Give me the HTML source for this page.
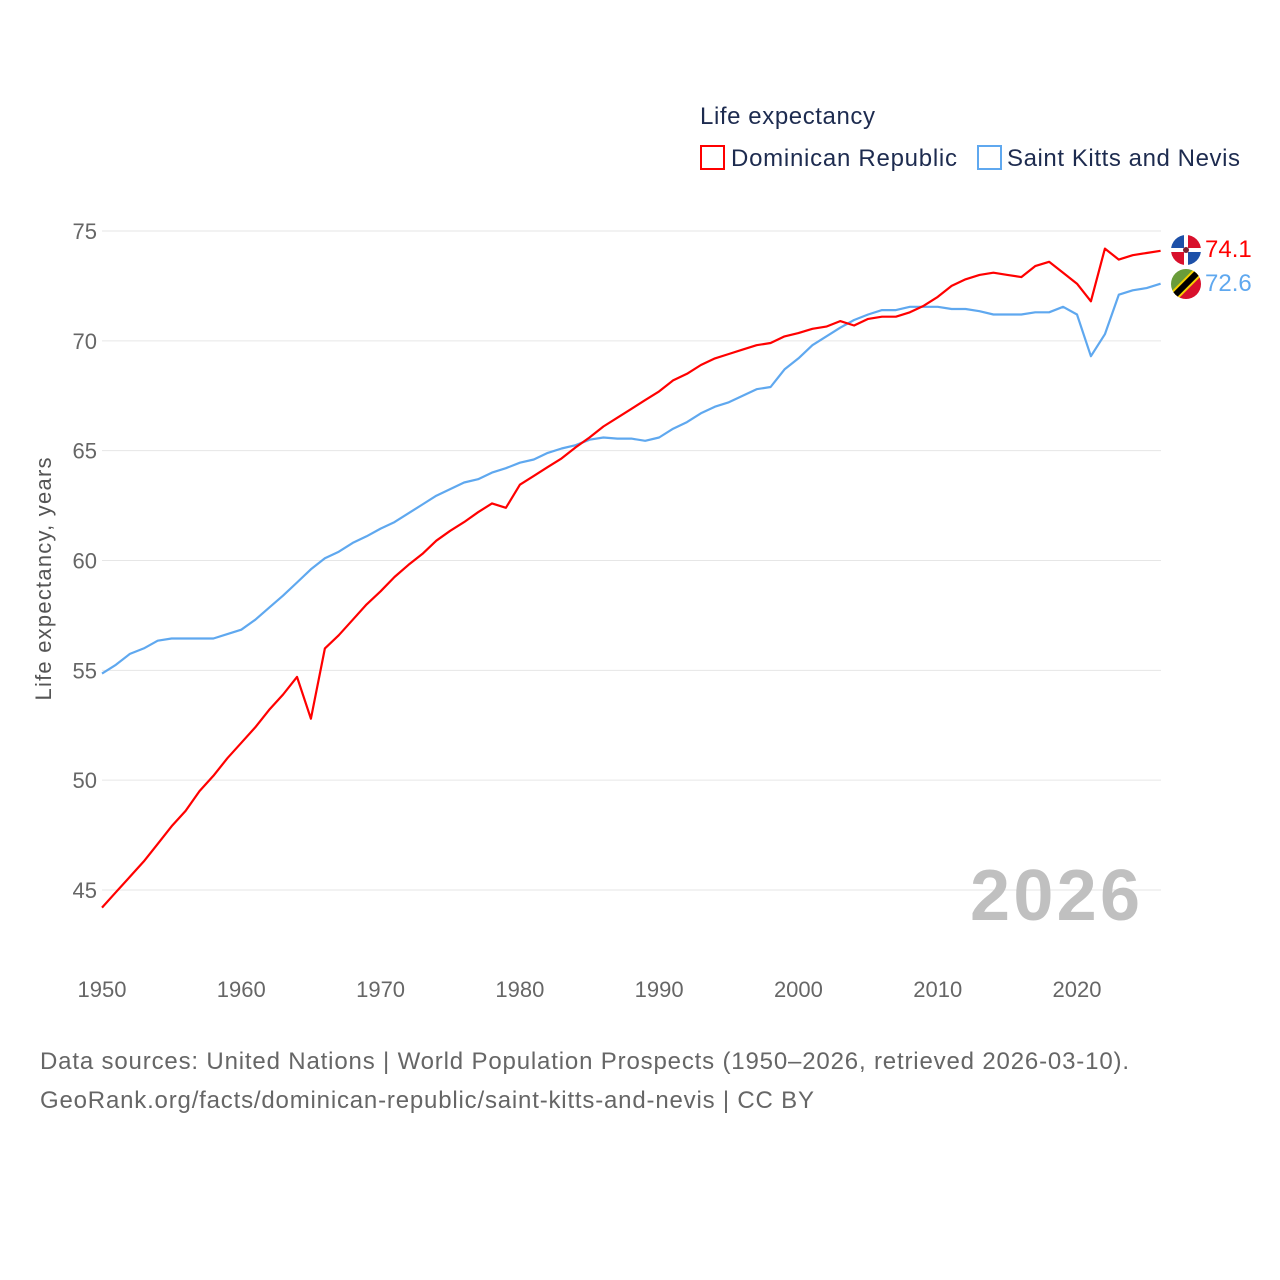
<!DOCTYPE html>
<html><head><meta charset="utf-8"><style>
body{margin:0;background:#fff;font-family:"Liberation Sans",sans-serif}
svg{display:block}
</style></head><body>
<svg id="chart" width="1280" height="1280" xmlns="http://www.w3.org/2000/svg">
<text x="700" y="124" font-size="24" fill="#1d2b4f" textLength="175">Life expectancy</text>
<g><rect x="701" y="146" width="23" height="23" fill="none" stroke="#ff0000" stroke-width="2"/><text x="731" y="166" font-size="24" fill="#1d2b4f" textLength="226">Dominican Republic</text></g>
<g><rect x="978" y="146" width="23" height="23" fill="none" stroke="#5fa8ef" stroke-width="2"/><text x="1007" y="166" font-size="24" fill="#1d2b4f" textLength="233">Saint Kitts and Nevis</text></g>
<g id="grid"></g><g id="xt"></g><g id="yt"></g>
<text transform="translate(51,579) rotate(-90)" text-anchor="middle" font-size="22" fill="#555" textLength="243">Life expectancy, years</text>
<text x="1140" y="920" text-anchor="end" font-size="72" font-weight="bold" fill="#c0c0c0" textLength="170">2026</text>
<g id="lines"></g>
<g>
<clipPath id="c1"><circle cx="1186" cy="250" r="15"/></clipPath>
<g clip-path="url(#c1)"><rect x="1171" y="235" width="30" height="30" fill="#fff"/><rect x="1171" y="235" width="13" height="13" fill="#1d50a8"/><rect x="1188" y="235" width="13" height="13" fill="#d8102c"/><rect x="1171" y="252" width="13" height="13" fill="#d8102c"/><rect x="1188" y="252" width="13" height="13" fill="#1d50a8"/><circle cx="1186" cy="250" r="3" fill="#7a2030"/></g></g>
<g>
<clipPath id="c2"><circle cx="1186" cy="284" r="15"/></clipPath>
<g clip-path="url(#c2)"><polygon points="1171,269 1201,269 1171,299" fill="#6a9c3a"/><polygon points="1201,269 1201,299 1171,299" fill="#d8102c"/><line x1="1201" y1="269" x2="1171" y2="299" stroke="#f5d000" stroke-width="10"/><line x1="1201" y1="269" x2="1171" y2="299" stroke="#000" stroke-width="6"/></g></g>
<text x="1205" y="257" font-size="24" fill="#ff0000">74.1</text>
<text x="1205" y="291" font-size="24" fill="#5fa8ef">72.6</text>
<text x="40" y="1069" font-size="24" fill="#666" textLength="1089">Data sources: United Nations | World Population Prospects (1950–2026, retrieved 2026-03-10).</text>
<text x="40" y="1108" font-size="24" fill="#666" textLength="774">GeoRank.org/facts/dominican-republic/saint-kitts-and-nevis | CC BY</text>
</svg>
<script>
const startYear = 1950;
const drValues = [44.2,44.9,45.6,46.3,47.1,47.9,48.6,49.5,50.2,51.0,51.7,52.4,53.2,53.9,54.7,52.8,56.0,56.6,57.3,58.0,58.6,59.25,59.8,60.3,60.9,61.35,61.75,62.2,62.6,62.4,63.45,63.85,64.25,64.65,65.15,65.6,66.1,66.5,66.9,67.3,67.7,68.2,68.5,68.9,69.2,69.4,69.6,69.8,69.9,70.2,70.35,70.55,70.65,70.9,70.7,71.0,71.1,71.1,71.3,71.6,72.0,72.5,72.8,73.0,73.1,73.0,72.9,73.4,73.6,73.1,72.6,71.8,74.2,73.7,73.9,74.0,74.1];
const sknValues = [54.85,55.25,55.75,56.0,56.35,56.45,56.45,56.45,56.45,56.65,56.85,57.3,57.85,58.4,59.0,59.6,60.1,60.4,60.8,61.1,61.45,61.75,62.15,62.55,62.95,63.25,63.55,63.7,64.0,64.2,64.45,64.6,64.9,65.1,65.25,65.5,65.6,65.55,65.55,65.45,65.6,66.0,66.3,66.7,67.0,67.2,67.5,67.8,67.9,68.7,69.2,69.8,70.2,70.6,70.95,71.2,71.4,71.4,71.55,71.55,71.55,71.45,71.45,71.35,71.2,71.2,71.2,71.3,71.3,71.55,71.2,69.3,70.3,72.1,72.3,72.4,72.6];
const yTicks = [45,50,55,60,65,70,75];
const xTicks = [1950,1960,1970,1980,1990,2000,2010,2020];
const NS="http://www.w3.org/2000/svg";
const x = yr => 102 + (yr-1950)*(975/70);
const y = v => 231 + (75-v)*(659/30);
function mk(tag, attrs, parent){const e=document.createElementNS(NS,tag);for(const k in attrs)e.setAttribute(k,attrs[k]);parent.appendChild(e);return e;}
const grid=document.getElementById('grid'), yt=document.getElementById('yt'), xt=document.getElementById('xt'), lines=document.getElementById('lines');
yTicks.forEach(t=>{
  const l=mk('line',{x1:102,x2:1161,y1:y(t),y2:y(t),stroke:'#e6e6e6','stroke-width':1},grid);
  
  
  const tx=mk('text',{x:97,y:y(t)+8,'text-anchor':'end','font-size':22,fill:'#666'},yt);
  tx.textContent=t;
  
  
});
xTicks.forEach(t=>{
  const tx=mk('text',{x:x(t),y:997,'text-anchor':'middle','font-size':22,fill:'#666'},xt);
  tx.textContent=t;
  
  
});
function draw(vals,color,name){
  const d=vals.map((v,i)=>(i?'L':'M')+x(startYear+i).toFixed(1)+','+y(v).toFixed(1)).join('');
  const p=mk('path',{d:d,fill:'none',stroke:color,'stroke-width':2.2,'stroke-linejoin':'round'},lines);
  
  
}
draw(sknValues,'#5fa8ef','line-saint-kitts-and-nevis');
draw(drValues,'#ff0000','line-dominican-republic');
</script>
</body></html>
